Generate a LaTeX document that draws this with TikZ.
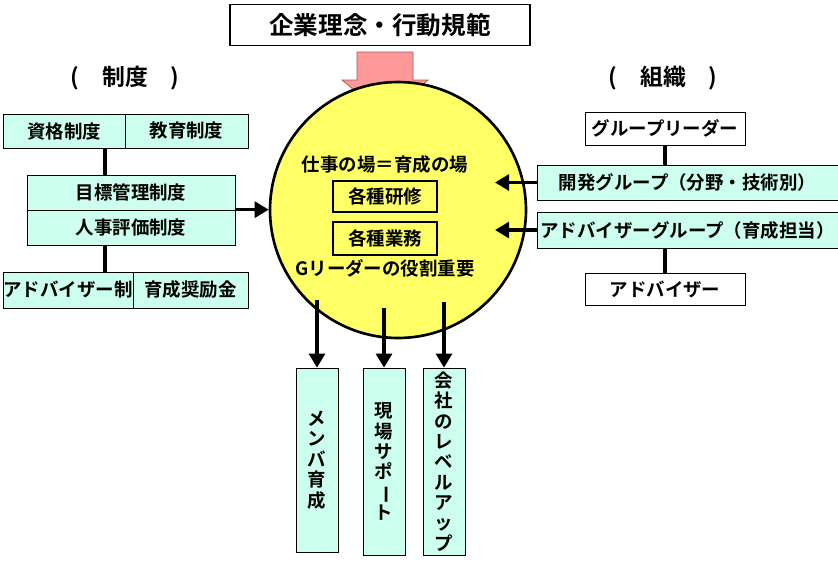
\documentclass[tikz,border=0pt]{standalone}
\usepackage{fontspec}
\newfontfamily\jp{Noto Sans CJK JP}[BoldFont={Noto Sans CJK JP Bold}]
\usetikzlibrary{arrows.meta}
\definecolor{mint}{HTML}{CCFFEE}
\definecolor{lemon}{HTML}{FFFF66}
\definecolor{salmon}{HTML}{FF9999}
\newcommand{\vchoon}{\rotatebox[origin=c]{-90}{ー}}
\tikzset{
  box/.style={draw,fill=mint,inner sep=0pt,font=\jp\bfseries\fontsize{10.5}{12}\selectfont},
  wbox/.style={draw,fill=white,inner sep=0pt,font=\jp\bfseries\fontsize{10.5}{12}\selectfont},
  vbox/.style={draw,fill=mint,inner sep=0pt,font=\jp\bfseries\fontsize{10.5}{11.6}\selectfont,align=center},
  arr/.style={line width=2pt,-{Triangle[length=8pt,width=9pt]}},
  conn/.style={line width=2.5pt}
}
\begin{document}
\begin{tikzpicture}[x=0.02cm,y=-0.02cm]
  \useasboundingbox (0,0) rectangle (838,566);
  % title
  \node[draw,line width=1pt,fill=white,minimum width=6cm,minimum height=0.82cm,font=\jp\bfseries\fontsize{14}{16}\selectfont] (title) at (380,25) {企業理念・行動規範};
  \coordinate (tip) at (385,116);
  \draw[salmon!60!black,fill=salmon] (357,52) -- (413,52) -- (413,80) -- (428,80)
    -- (tip) -- (342,80) -- (357,80) -- cycle;
  \node[font=\jp\bfseries\fontsize{13}{14}\selectfont] (seido) at (125,78) {(\quad 制度\quad )};
  \node[font=\jp\bfseries\fontsize{13}{14}\selectfont] (soshiki) at (663,78) {(\quad 組織\quad )};
  % left
  \node[box,minimum width=2.44cm,minimum height=0.68cm] (shikaku) at (64,131) {資格制度};
  \node[box,minimum width=2.46cm,minimum height=0.68cm] (kyoiku) at (186.5,131) {教育制度};
  \node[box,minimum width=4.16cm,minimum height=0.7cm] (mokuhyo) at (131,192.5) {目標管理制度};
  \node[box,minimum width=4.16cm,minimum height=0.7cm] (jinji) at (131,227.5) {人事評価制度};
  \node[box,minimum width=2.6cm,minimum height=0.72cm] (advsei) at (68,290) {アドバイザー制};
  \node[box,minimum width=2.3cm,minimum height=0.72cm] (shorei) at (190.5,290) {育成奨励金};
  \draw[conn] (105,148) -- (mokuhyo.north -| 105,0);
  \draw[conn] (jinji.south -| 105,0) -- (105,272);
  % center
  \node[circle,draw,line width=1.5pt,fill=lemon,minimum size=5.12cm] (ba) at (398,210) {};
  \node[font=\jp\bfseries\fontsize{10.5}{12}\selectfont] (bacap) at (385,165) {仕事の場＝育成の場};
  \node[draw,line width=1pt,minimum width=2.08cm,minimum height=0.62cm,font=\jp\bfseries\fontsize{10.5}{12}\selectfont] (kenshu) at (385,196.5) {各種研修};
  \node[draw,line width=1pt,minimum width=2.08cm,minimum height=0.66cm,font=\jp\bfseries\fontsize{10.5}{12}\selectfont] (gyomu) at (385,238.5) {各種業務};
  \node[font=\jp\bfseries\fontsize{10.5}{12}\selectfont] (role) at (385,268) {Gリーダーの役割重要};
  \draw[arr] (jinji.north east) -- (ba.west |- jinji.north east);
  % right
  \node[wbox,minimum width=3.2cm,minimum height=0.66cm] (gl) at (665,128.5) {グループリーダー};
  \node[box,minimum width=6.02cm,minimum height=0.7cm] (kaihatsu) at (687.5,182.5) {開発グループ（分野・技術別）};
  \node[box,minimum width=6.02cm,minimum height=0.72cm] (advg) at (687.5,230) {アドバイザーグループ（育成担当）};
  \node[wbox,minimum width=3.2cm,minimum height=0.64cm] (adv) at (665,289) {アドバイザー};
  \draw[conn] (gl.south) -- (665,165);
  \draw[conn] (665,248) -- (adv.north);
  \draw[arr] (kaihatsu.west) -- (495,182.5);
  \draw[arr] (advg.west) -- (495,230);
  % bottom
  \node[vbox,minimum width=0.84cm,minimum height=3.68cm] (member) at (317,460) {メ\\ン\\バ\\育\\成};
  \node[vbox,minimum width=0.84cm,minimum height=3.74cm] (genba) at (384,461.5) {現\\場\\サ\\ポ\\\vchoon\\ト};
  \node[vbox,minimum width=0.84cm,minimum height=3.74cm] (kaisha) at (444,461.5) {会\\社\\の\\レ\\ベ\\ル\\ア\\ッ\\プ};
  \draw[arr] (317,300) -- (member.north);
  \draw[arr] (384,308) -- (genba.north);
  \draw[arr] (444,302) -- (kaisha.north);
\end{tikzpicture}
\end{document}
